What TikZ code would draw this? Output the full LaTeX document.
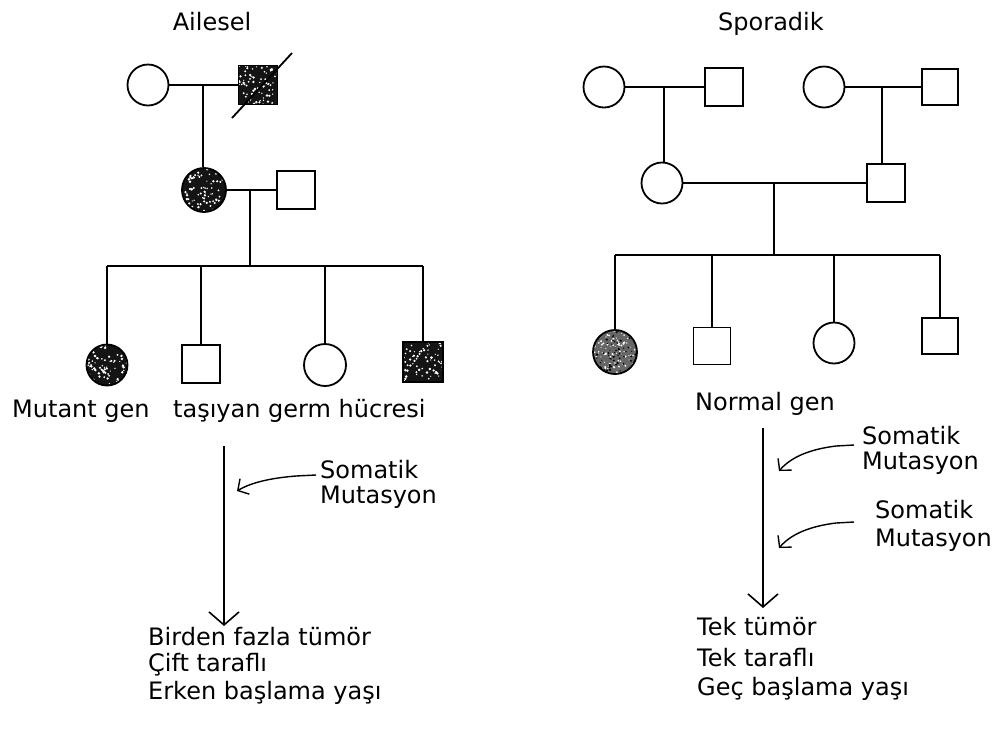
\documentclass[tikz,border=0pt]{standalone}
\usepackage{fontspec}
\setmainfont{DejaVu Sans}
\usetikzlibrary{arrows.meta,calc}

\tikzset{
  rel/.style={line width=1.8pt},
  female/.style={circle, draw, line width=1.8pt, minimum size=41pt, inner sep=0pt},
  male/.style={rectangle, draw, line width=1.8pt, minimum size=38pt, inner sep=0pt},
  speckled/.style={fill=black!92, path picture={
      \foreach \k in {1,...,110}
        \fill[white] ($(path picture bounding box.center)+({(rnd-0.5)*48pt},{(rnd-0.5)*48pt})$)
          circle[radius={0.6pt+rnd*0.8pt}];}},
  greyspeck/.style={fill=black!60, path picture={
      \foreach \k in {1,...,110}
        \fill[white] ($(path picture bounding box.center)+({(rnd-0.5)*48pt},{(rnd-0.5)*48pt})$)
          circle[radius={0.5pt+rnd*0.7pt}];
      \foreach \k in {1,...,90}
        \fill[black] ($(path picture bounding box.center)+({(rnd-0.5)*48pt},{(rnd-0.5)*48pt})$)
          circle[radius={0.5pt+rnd*0.7pt}];}},
  txt/.style={anchor=west, inner sep=0pt, font=\fontsize{24}{28}\selectfont},
  title/.style={inner sep=0pt, font=\fontsize{24}{28}\selectfont},
  flow/.style={line width=1.6pt, -{Straight Barb[length=13pt,width=30pt,line width=1.6pt]}},
  hit/.style={line width=1.4pt, -{Straight Barb[length=8pt,width=18pt,line width=1.4pt]}},
}

\begin{document}
\begin{tikzpicture}[x=1pt, y=-1pt]
\pgfmathsetseed{11}
\useasboundingbox (0,0) rectangle (994,732);

% ---------------- familial ----------------
\node[title] (tA) at (212,22) {Ailesel};

\node[female] (I1) at (148,85) {};
\node[male, speckled, minimum size=39pt] (I2) at (258,85) {};
\draw[rel] (I1) -- (I2);
\draw[rel] ($(I2)+(-26,33)$) -- ($(I2)+(34,-32)$);
\coordinate (mI) at ($(I1)!0.5!(I2)$);

\node[female, speckled, minimum size=44pt] (II1) at (204,190) {};
\node[male] (II2) at (296,190) {};
\draw[rel] (mI) -- (mI |- II1.north);
\draw[rel] (II1) -- (II2);
\coordinate (mII) at ($(II1)!0.5!(II2)$);

\coordinate (sibA) at (0,266);
\node[female, speckled] (III1) at (107,365) {};
\node[male] (III2) at (201,364) {};
\node[female, minimum size=42pt] (III3) at (325,365) {};
\node[male, speckled, minimum size=40pt] (III4) at (423,362) {};
\draw[rel] (mII) -- (mII |- sibA);
\draw[rel] (III1 |- sibA) -- (III4 |- sibA);
\foreach \n in {III1,III2,III3,III4}
  \draw[rel] (\n |- sibA) -- (\n.north);

\node[txt] (gA1) at (12,411) {Mutant gen};
\node[txt] (gA2) at (173,411) {taşıyan germ hücresi};

\coordinate (vA0) at (224,446);
\coordinate (vA1) at (224,626);
\draw[flow] (vA0) -- (vA1);

\node[txt] (sA1) at (320,470) {Somatik};
\node[txt] (sA2) at (320,497) {Mutasyon};
\coordinate (hA0) at (316,475);
\coordinate (hA1) at (237,491);
\draw[hit] (hA0) -- (296,476) .. controls (272,478) and (252,482) .. (hA1);

\node[txt] (rA1) at (148,637) {Birden fazla tümör};
\node[txt] (rA2) at (148,665) {Çift taraflı};
\node[txt] (rA3) at (148,693) {Erken başlama yaşı};

% ---------------- sporadic ----------------
\node[title] (tB) at (771,24) {Sporadik};

\node[female] (A1) at (604,87) {};
\node[male] (A2) at (724,87) {};
\draw[rel] (A1) -- (A2);
\coordinate (mA) at ($(A1)!0.5!(A2)$);

\node[female] (B1) at (824,87) {};
\node[male, minimum size=36pt] (B2) at (940,87) {};
\draw[rel] (B1) -- (B2);
\coordinate (mB) at ($(B1)!0.5!(B2)$);

\node[female] (C1) at (662,183) {};
\node[male] (C2) at (886,183) {};
\draw[rel] (mA) -- (mA |- C1.north);
\draw[rel] (mB) -- (mB |- C2.north);
\draw[rel] (C1) -- (C2);
\coordinate (mC) at ($(C1)!0.5!(C2)$);

\coordinate (sibB) at (0,255);
\node[female, greyspeck, minimum size=44pt] (D1) at (615,352) {};
\node[male, minimum size=37pt] (D2) at (712,346) {};
\node[female] (D3) at (834,343) {};
\node[male, minimum size=36pt] (D4) at (940,336) {};
\draw[rel] (mC) -- (mC |- sibB);
\draw[rel] (D1 |- sibB) -- (D4 |- sibB);
\foreach \n in {D1,D2,D3,D4}
  \draw[rel] (\n |- sibB) -- (\n.north);

\node[txt] (gB) at (695,404) {Normal gen};

\coordinate (vB0) at (763,428);
\coordinate (vB1) at (763,608);
\draw[flow] (vB0) -- (vB1);

\node[txt] (sB1) at (862,436) {Somatik};
\node[txt] (sB2) at (862,463) {Mutasyon};
\coordinate (hB0) at (854,445);
\coordinate (hB1) at (779,471);
\draw[hit] (hB0) -- (836,446) .. controls (812,449) and (792,456) .. (hB1);

\node[txt] (sB3) at (875,510) {Somatik};
\node[txt] (sB4) at (875,540) {Mutasyon};
\coordinate (hB2) at (854,522);
\coordinate (hB3) at (779,548);
\draw[hit] (hB2) -- (836,523) .. controls (812,526) and (792,533) .. (hB3);

\node[txt] (rB1) at (697,627) {Tek tümör};
\node[txt] (rB2) at (697,658) {Tek taraflı};
\node[txt] (rB3) at (697,689) {Geç başlama yaşı};
\end{tikzpicture}
\end{document}
